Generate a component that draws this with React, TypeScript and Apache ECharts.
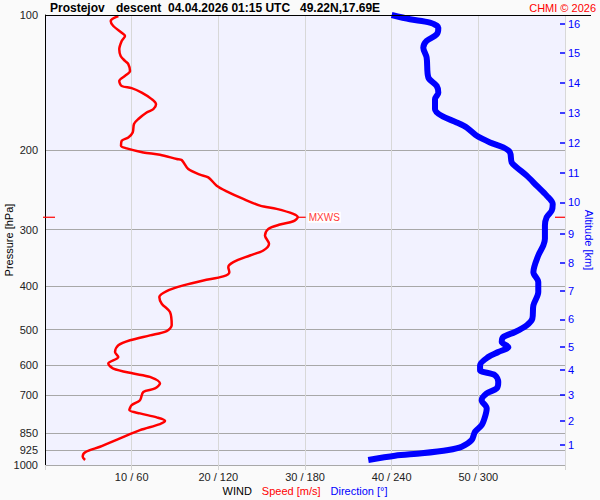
import React, { useEffect, useRef } from "react";
import * as echarts from "echarts";

// ---- data ----
const pressureLevels = [100, 200, 300, 400, 500, 600, 700, 850, 925, 1000];
const altitudeKm = [1, 2, 3, 4, 5, 6, 7, 8, 9, 10, 11, 12, 13, 14, 15, 16];
const altitudePressure = [902.8, 797.5, 699.5, 615.7, 546.7, 474.7, 410.8, 356, 306, 261, 224, 192.2, 164.9, 141.5, 121.6, 104.5];

// wind speed profile (m/s) vs pressure (hPa)
const speedPressure = [100.5, 103.1, 105.8, 109.5, 111.3, 114.2, 119.2, 123.3, 126.5, 128.6, 133.1, 136.5, 140.1, 143.8, 145.4, 148.8, 153.8, 157.8, 161.9, 164.7, 170.3, 174.7, 182.4, 187.1, 190.3, 195.2, 197.9, 202, 204.4, 208.9, 210, 219.9, 226.4, 229.5, 239.5, 246.5, 256.3, 265.2, 269.7, 276.7, 281.5, 287.3, 292.2, 298.8, 309, 322.4, 333.7, 342.3, 354.2, 363.4, 372.8, 381, 388.9, 398.9, 410.7, 423.5, 438, 457.2, 489.2, 503.9, 515.1, 528.3, 542, 560.9, 575.4, 595.1, 610.5, 626.3, 637.2, 659, 676, 688, 717.8, 736.2, 755.1, 768, 783.8, 797.6, 811.1, 836.3, 872.6, 910.8, 937.1, 958.5, 974.7];
const speedValues = [8.46, 7.58, 7.88, 8.85, 9.23, 8.85, 8.57, 8.73, 9.23, 9.61, 9.81, 9.23, 8.57, 8.85, 10.0, 11.16, 12.31, 12.81, 12.5, 11.73, 10.77, 10.27, 10.12, 9.61, 8.85, 8.77, 9.43, 11.34, 13.27, 15.2, 15.77, 16.53, 17.88, 18.84, 19.81, 20.96, 22.88, 24.81, 26.73, 28.65, 29.16, 28.65, 27.11, 25.76, 25.38, 25.85, 25.19, 23.65, 21.73, 21.15, 21.27, 20.57, 18.27, 15.96, 14.04, 13.19, 13.47, 14.42, 14.62, 14.04, 12.11, 9.81, 8.46, 8.08, 8.46, 7.3, 7.88, 10.19, 12.11, 13.27, 12.69, 11.34, 10.96, 10.0, 9.73, 10.96, 12.89, 13.85, 13.27, 10.96, 8.65, 6.35, 4.62, 4.35, 4.62];

// wind direction profile (deg) vs pressure (hPa)
const dirPressure = [100, 102.2, 104.0, 106.7, 110.4, 114.2, 118.2, 124.3, 137.7, 143.8, 148.8, 153.8, 161.9, 167.5, 173.3, 177.8, 185.5, 191.9, 196.9, 202, 212.6, 218.1, 227.5, 239.5, 252, 262.9, 272.1, 281.5, 293.7, 314.3, 325.2, 342.3, 372.8, 392.3, 412.8, 441.8, 472.9, 489.2, 506.4, 519.5, 533, 546.7, 560.9, 575.4, 600, 615.5, 631.5, 653.7, 676, 693.4, 717.8, 748.6, 781.4, 815.3, 843.7, 880.2, 910.8, 926.2, 942.1, 953.7, 974.7];
const dirValues = [240.0, 252.7, 266.5, 272.3, 271.2, 264.2, 261.9, 264.2, 265.4, 271.2, 272.3, 270.0, 270.0, 274.6, 285.0, 291.9, 298.9, 308.1, 317.3, 321.9, 323.1, 326.6, 333.5, 340.4, 347.3, 351.5, 350.8, 347.3, 346.1, 346.1, 345.0, 341.5, 338.1, 341.5, 341.5, 338.1, 337.4, 333.5, 325.4, 317.3, 316.2, 320.8, 313.8, 306.9, 301.2, 301.2, 311.5, 313.8, 312.7, 305.8, 302.3, 305.8, 304.6, 302.3, 297.7, 295.4, 288.5, 279.2, 260.8, 242.3, 223.8];

const FONT = '"Liberation Sans", Arial, sans-serif';

export default function App() {
  const ref = useRef<HTMLDivElement>(null);

  useEffect(() => {
    if (!ref.current) return;
    const chart = echarts.init(ref.current, null, { renderer: "svg" });

    const maxSpeed = Math.max(...speedValues);
    const maxIdx = speedValues.indexOf(maxSpeed);
    const pMax = speedPressure[maxIdx];

    const altLabel = (v: number) => {
      let best = 0;
      let bd = Infinity;
      altitudePressure.forEach((p, i) => {
        const d = Math.abs(p - v);
        if (d < bd) {
          bd = d;
          best = i;
        }
      });
      return String(altitudeKm[best]);
    };

    const option: any = {
      animation: false,
      backgroundColor: "#fafafa",
      textStyle: { fontFamily: FONT },
      grid: {
        left: 45,
        right: 35,
        top: 15,
        bottom: 35,
        containLabel: false,
        outerBoundsMode: "none",
        show: true,
        backgroundColor: "#f2f2ff",
        borderWidth: 0,
      },
      xAxis: [
        {
          type: "value",
          min: 0,
          max: 60,
          interval: 10,
          position: "bottom",
          axisLine: { show: false, onZero: false },
          axisTick: { show: true, length: 5, lineStyle: { color: "#d4d4d4" } },
          minorTick: { show: false },
          axisLabel: {
            formatter: (v: number) => (v > 0 && v < 60 ? `${v} / ${v * 6}` : ""),
            fontSize: 11,
            color: "#222",
            margin: 6,
            fontFamily: FONT,
          },
          splitLine: { show: true, lineStyle: { color: "#d8d8d8", width: 1 } },
          name: "{w|WIND}{s|Speed [m/s]}{d|Direction [°]}",
          nameLocation: "middle",
          nameGap: 20,
          nameMoveOverlap: false,
          nameTextStyle: {
            fontSize: 11,
            fontFamily: FONT,
            rich: {
              w: { color: "#000", fontSize: 11, fontFamily: FONT, padding: [0, 10, 0, 0] },
              s: { color: "#ff0000", fontSize: 11, fontFamily: FONT, padding: [0, 10, 0, 0] },
              d: { color: "#0000ff", fontSize: 11, fontFamily: FONT },
            },
          },
        },
        {
          type: "value",
          min: 0,
          max: 360,
          position: "top",
          show: false,
          axisLine: { show: false, onZero: false },
        },
      ],
      yAxis: [
        {
          type: "log",
          logBase: 10,
          min: 100,
          max: 1000,
          inverse: true,
          position: "left",
          axisLine: { show: true, onZero: false, lineStyle: { color: "#000", width: 1 } },
          axisTick: { show: false, customValues: pressureLevels },
          minorTick: { show: false },
          axisLabel: {
            customValues: pressureLevels,
            formatter: (v: number) => String(Math.round(v)),
            margin: 7,
            fontSize: 11,
            color: "#222",
            fontFamily: FONT,
          },
          splitLine: { show: true, lineStyle: { color: "#a8a8a8", width: 1 } },
          name: "Pressure [hPa]",
          nameLocation: "middle",
          nameGap: 31,
          nameRotate: 90,
          nameMoveOverlap: false,
          nameTextStyle: { color: "#000", fontSize: 11, fontFamily: FONT },
        },
        {
          type: "log",
          logBase: 10,
          min: 100,
          max: 1000,
          inverse: true,
          position: "right",
          axisLine: { show: false, onZero: false },
          axisTick: {
            show: true,
            inside: true,
            length: 5,
            customValues: altitudePressure,
            lineStyle: { color: "#0000ff", width: 1.5 },
          },
          minorTick: { show: false },
          axisLabel: {
            customValues: altitudePressure,
            formatter: altLabel,
            color: "#0000ff",
            fontSize: 11,
            margin: 3,
            fontFamily: FONT,
          },
          splitLine: { show: false },
          name: "Altitude [km]",
          nameLocation: "middle",
          nameGap: 18,
          nameRotate: -90,
          nameMoveOverlap: false,
          nameTextStyle: { color: "#0000ff", fontSize: 11, fontFamily: FONT },
        },
      ],
      series: [
        {
          name: "Direction",
          type: "line",
          xAxisIndex: 1,
          yAxisIndex: 0,
          data: dirPressure.map((p, i) => [dirValues[i], p]),
          showSymbol: false,
          smooth: 0.3,
          lineStyle: { color: "#0000ff", width: 6 },
          itemStyle: { color: "#0000ff" },
          z: 3,
        },
        {
          name: "Speed",
          type: "line",
          xAxisIndex: 0,
          yAxisIndex: 0,
          data: speedPressure.map((p, i) => [speedValues[i], p]),
          showSymbol: false,
          smooth: 0.3,
          lineStyle: { color: "#ff0000", width: 2.5 },
          itemStyle: { color: "#ff0000" },
          z: 4,
          markPoint: {
            silent: true,
            symbol: "rect",
            itemStyle: { color: "#ff0000" },
            data: [
              {
                coord: [speedValues[maxIdx], pMax],
                symbolSize: [8, 1.2],
                symbolOffset: [4, 0],
                label: {
                  show: true,
                  position: "right",
                  distance: 2,
                  formatter: "MXWS",
                  color: "#ff3b3b",
                  fontSize: 10,
                  fontFamily: FONT,
                  backgroundColor: "#ffffff",
                  padding: [1, 1, 0, 1],
                },
              },
              {
                coord: [0, pMax],
                symbolSize: [12, 1.2],
                symbolOffset: [4, 0],
                label: { show: false },
              },
              {
                coord: [60, pMax],
                symbolSize: [10, 1.2],
                symbolOffset: [-5, 0],
                label: { show: false },
              },
            ],
          },
        },
      ],
      graphic: [
        {
          type: "line",
          z: 100,
          shape: { x1: 45, y1: 15.5, x2: 591, y2: 15.5 },
          style: { stroke: "#000", lineWidth: 1 },
        },
        {
          type: "text",
          x: 50,
          y: 8,
          z: 100,
          style: { text: "Prostejov", font: `bold 12px ${FONT}`, fill: "#000", textVerticalAlign: "middle" },
        },
        {
          type: "text",
          x: 116,
          y: 8,
          z: 100,
          style: { text: "descent", font: `bold 12px ${FONT}`, fill: "#000", textVerticalAlign: "middle" },
        },
        {
          type: "text",
          x: 168,
          y: 8,
          z: 100,
          style: { text: "04.04.2026 01:15 UTC", font: `bold 12px ${FONT}`, fill: "#000", textVerticalAlign: "middle" },
        },
        {
          type: "text",
          x: 300,
          y: 8,
          z: 100,
          style: { text: "49.22N,17.69E", font: `bold 12px ${FONT}`, fill: "#000", textVerticalAlign: "middle" },
        },
        {
          type: "text",
          x: 596,
          y: 8,
          z: 100,
          style: { text: "CHMI © 2026", font: `11px ${FONT}`, fill: "#ff0000", textAlign: "right", textVerticalAlign: "middle" },
        },
      ],
    };

    chart.setOption(option);
    return () => chart.dispose();
  }, []);

  return (
    <div
      ref={ref}
      style={{ position: "absolute", left: 0, top: 0, width: 600, height: 500 }}
    />
  );
}
